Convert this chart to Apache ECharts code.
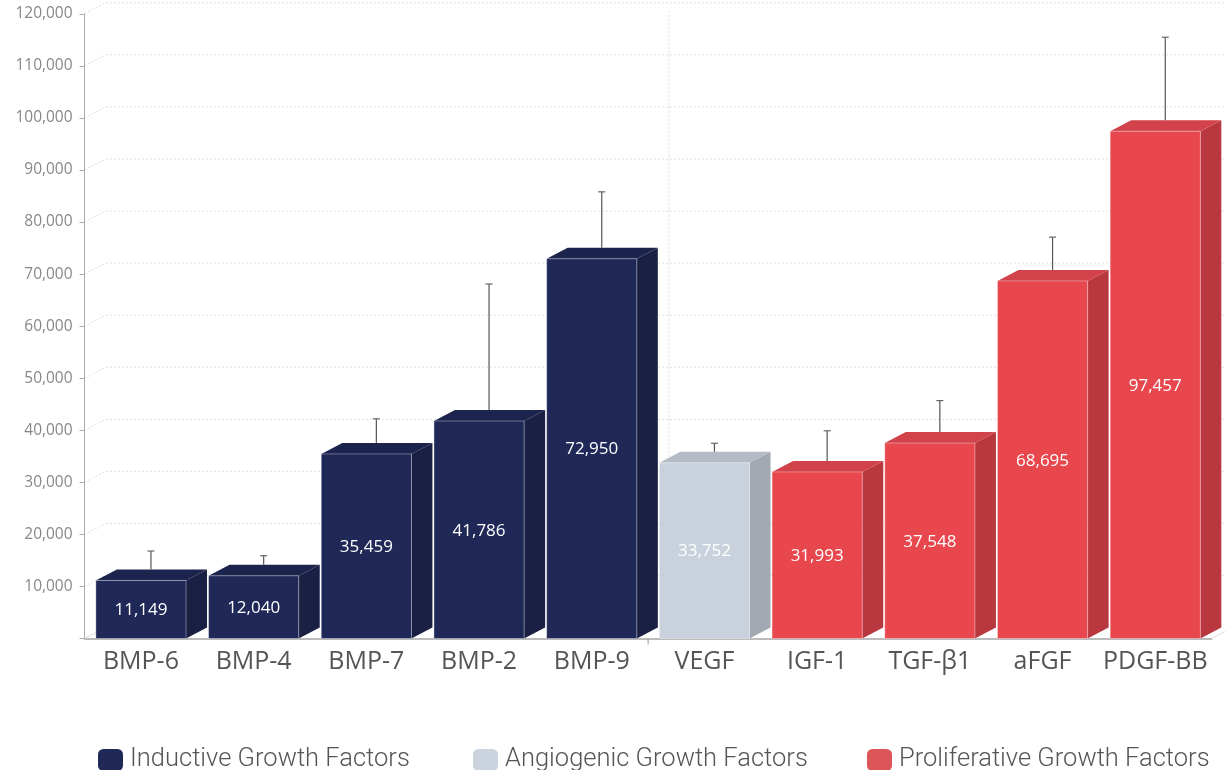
<!DOCTYPE html>
<html>
<head>
<meta charset="utf-8">
<script src="https://cdn.jsdelivr.net/npm/echarts@6/dist/echarts.min.js"></script>
<style>
html,body{margin:0;padding:0;background:#fff;}
#chart{width:1225px;height:770px;}
</style>
</head>
<body>
<div id="chart"></div>
<script>
// ---- data ----
const categories = ['BMP-6','BMP-4','BMP-7','BMP-2','BMP-9','VEGF','IGF-1','TGF-β1','aFGF','PDGF-BB'];
const values     = [11149, 12040, 35459, 41786, 72950, 33752, 31993, 37548, 68695, 97457];
const errorHigh  = [16800, 15900, 42200, 68100, 85800, 37500, 39900, 45700, 77100, 115500];
const groupOf    = [0, 0, 0, 0, 0, 1, 2, 2, 2, 2];
const groupNames = ['Inductive Growth Factors', 'Angiogenic Growth Factors', 'Proliferative Growth Factors'];
const yTicks     = [0, 10000, 20000, 30000, 40000, 50000, 60000, 70000, 80000, 90000, 100000, 110000, 120000];
const groupBoundaries = [4.5];

// ---- styles ----
const palette = [
  {front:'#1f2857', top:'#1c234d', side:'#1a2044', legend:'#1f2857', label:'#ffffff'},
  {front:'#c9d2dc', top:'#b4bbc6', side:'#a2a9b2', legend:'#cbd3de', label:'#ffffff'},
  {front:'#e8474e', top:'#d2424a', side:'#b9383f', legend:'#dc5659', label:'#ffffff'}
];
const DX = 21, DY = -11;

const chart = echarts.init(document.getElementById('chart'));

function barRender(g) {
  return function (params, api) {
    const idx = api.value(0);
    const v = api.value(1);
    const hi = api.value(2);
    const topPt = api.coord([idx, v]);
    const basePt = api.coord([idx, 0]);
    const hiPt = api.coord([idx, hi]);
    const bw = api.size([1, 0])[0] * 0.8;
    const cx = topPt[0], top = topPt[1], base = basePt[1];
    const l = cx - bw / 2, r = cx + bw / 2;
    const c = palette[g];
    const ex = cx + 10;
    return {
      type: 'group',
      children: [
        {type: 'polygon', shape: {points: [[r, top], [r + DX, top + DY], [r + DX, base + DY], [r, base]]},
          style: {fill: c.side}},
        {type: 'polygon', shape: {points: [[l, top], [l + DX, top + DY], [r + DX, top + DY], [r, top]]},
          style: {fill: c.top}},
        {type: 'rect', shape: {x: l, y: top, width: bw, height: base - top},
          style: {fill: c.front, stroke: 'rgba(255,255,255,0.35)', lineWidth: 1}},
        {type: 'line', shape: {x1: ex, y1: top + DY, x2: ex, y2: hiPt[1]},
          style: {stroke: '#555', lineWidth: 1.2}},
        {type: 'line', shape: {x1: ex - 3.5, y1: hiPt[1], x2: ex + 3.5, y2: hiPt[1]},
          style: {stroke: '#666', lineWidth: 1.2}},
        {type: 'text', x: cx, y: (top + base) / 2 + 1,
          style: {text: Number(v).toLocaleString('en-US'), fill: c.label,
            font: '400 17px "Open Sans"', align: 'center', verticalAlign: 'middle'}}
      ]
    };
  };
}

const barSeries = groupNames.map(function (name, g) {
  const data = [];
  categories.forEach(function (cat, i) {
    if (groupOf[i] === g) data.push([i, values[i], errorHigh[i]]);
  });
  return {
    name: name,
    type: 'custom',
    z: 5,
    itemStyle: {color: palette[g].legend},
    encode: {x: 0, y: 1},
    data: data,
    renderItem: barRender(g)
  };
});

const gridSeries = {
  type: 'custom',
  z: 1,
  silent: true,
  data: yTicks.map(function (t) { return [0, t]; }),
  encode: {x: 0, y: 1},
  renderItem: function (params, api) {
    const cs = params.coordSys;
    const y = api.coord([0, api.value(1)])[1];
    const x0 = cs.x, x1 = cs.x + cs.width;
    if (api.value(1) === 0) {
      return {type: 'group', children: [
        {type: 'line', shape: {x1: x0, y1: y, x2: x0 + DX, y2: y + DY}, style: {stroke: '#ddd', lineWidth: 1}},
        {type: 'line', shape: {x1: x1, y1: y, x2: x1 + DX, y2: y + DY}, style: {stroke: '#ddd', lineWidth: 1}}
      ]};
    }
    return {
      type: 'polyline',
      shape: {points: [[x0, y], [x0 + DX, y + DY], [x1 + DX, y + DY]]},
      style: {stroke: '#dedede', lineWidth: 1, lineDash: [2, 2], fill: null}
    };
  }
};

const dividerSeries = {
  type: 'custom',
  z: 1,
  silent: true,
  data: groupBoundaries.map(function (b) { return [b, 0]; }),
  renderItem: function (params, api) {
    const cs = params.coordSys;
    const b = api.value(0);
    const a = api.coord([Math.floor(b), 0]);
    const c = api.coord([Math.ceil(b), 0]);
    const x = (a[0] + c[0]) / 2;
    const base = a[1];
    return {type: 'group', children: [
      {type: 'line', shape: {x1: x + DX, y1: cs.y + DY + 8, x2: x + DX, y2: base + DY},
        style: {stroke: '#dedede', lineWidth: 1, lineDash: [2, 2]}},
      {type: 'line', shape: {x1: x, y1: base, x2: x, y2: base + 6},
        style: {stroke: '#999', lineWidth: 1}}
    ]};
  }
};

const legendPos = [93, 468, 862];
const option = {
  animation: false,
  backgroundColor: '#fff',
  grid: {left: 84.6, right: 13.4, top: 13.8, bottom: 131.5, containLabel: false},
  xAxis: {
    type: 'category',
    data: categories,
    axisLine: {show: true, lineStyle: {color: '#bbb', width: 2}},
    axisTick: {show: false},
    splitLine: {show: false},
    axisLabel: {color: '#555', fontSize: 25, fontFamily: 'Open Sans', margin: 11, interval: 0}
  },
  yAxis: {
    type: 'value',
    min: 0, max: 120000, interval: 10000,
    axisLine: {show: true, lineStyle: {color: '#aaa', width: 1}},
    axisTick: {show: true, length: 5, lineStyle: {color: '#aaa'}},
    splitLine: {show: false},
    axisLabel: {
      color: '#888', fontSize: 15.5, fontFamily: 'Open Sans', margin: 12,
      formatter: function (v) { return v === 0 ? '' : Number(v).toLocaleString('en-US'); }
    }
  },
  legend: groupNames.map(function (name, g) {
    return {
      data: [{name: name, itemStyle: {color: palette[g].legend}}],
      left: legendPos[g], top: 742,
      icon: 'roundRect', itemWidth: 25, itemHeight: 22, itemGap: 10,
      textStyle: {color: '#555', fontSize: 25.5, fontFamily: 'Roboto', fontWeight: 300,
        padding: [0, 0, 0, 2]},
      selectedMode: false
    };
  }),
  series: [gridSeries, dividerSeries].concat(barSeries)
};
chart.setOption(option);
</script>
</body>
</html>
